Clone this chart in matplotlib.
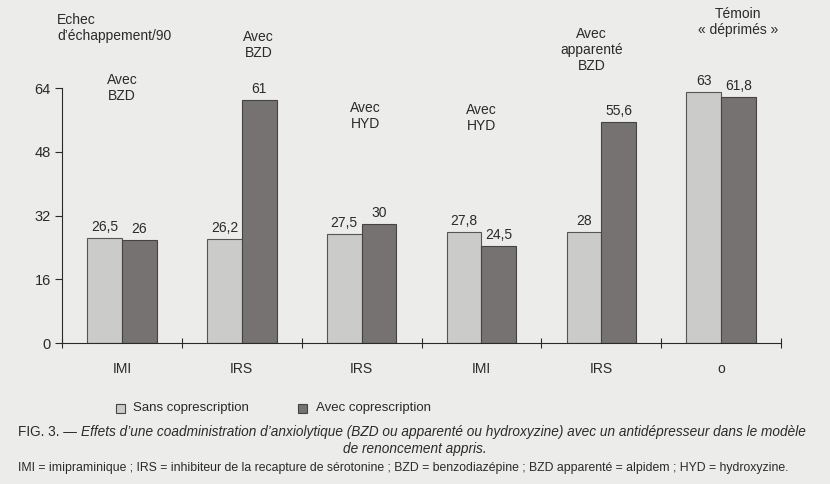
import matplotlib.pyplot as plt
import numpy as np

plt.rcParams['font.family'] = ['Liberation Sans', 'DejaVu Sans']

categories = ['IMI', 'IRS', 'IRS', 'IMI', 'IRS', 'o']
sans = [26.5, 26.2, 27.5, 27.8, 28, 63]
avec = [26, 61, 30, 24.5, 55.6, 61.8]
sans_lbl = ['26,5', '26,2', '27,5', '27,8', '28', '63']
avec_lbl = ['26', '61', '30', '24,5', '55,6', '61,8']
notes = ['Avec\nBZD', 'Avec\nBZD', 'Avec\nHYD', 'Avec\nHYD', 'Avec\napparenté\nBZD', 'Témoin\n« déprimés »']
note_x = [0, 1.14, 2.03, 3.0, 3.92, 5.14]
note_y = [64, 74.8, 57, 56.5, 73.5, 80.6]

bg = '#ececea'
light = '#cbcbc9'
dark = '#767272'
ink = '#2a2a2a'

fig = plt.figure(figsize=(8.3, 4.84), dpi=100, facecolor=bg)
ax = fig.add_axes([0.0747, 0.291, 0.8663, 0.527], facecolor=bg)

x = np.arange(len(categories))
w = 0.29
ax.bar(x - w / 2, sans, w, color=light, edgecolor='#555555', linewidth=0.8)
ax.bar(x + w / 2, avec, w, color=dark, edgecolor='#444444', linewidth=0.8)

for i in range(len(x)):
    ax.text(x[i] - w / 2, sans[i] + 1.0, sans_lbl[i], ha='center', va='bottom', fontsize=10, color=ink)
    ax.text(x[i] + w / 2, avec[i] + 1.0, avec_lbl[i], ha='center', va='bottom', fontsize=10, color=ink)
    ax.text(note_x[i], note_y[i], notes[i], ha='center', va='center', fontsize=10,
            color=ink, linespacing=1.2, clip_on=False)

ax.set_xlim(-0.5, 5.5)
ax.set_ylim(0, 64)
ax.set_yticks([0, 16, 32, 48, 64])
ax.set_xticks(np.arange(-0.5, 5.6, 1))
ax.set_xticklabels([])
ax.tick_params(axis='y', direction='out', length=5, labelsize=10.5, colors=ink, pad=3)
ax.tick_params(axis='x', direction='inout', length=7, colors=ink)
for i, c in enumerate(categories):
    ax.text(x[i], -6.5, c, ha='center', va='center', fontsize=10, color=ink)

for s in ['top', 'right']:
    ax.spines[s].set_visible(False)
ax.spines['left'].set_color(ink)
ax.spines['bottom'].set_color(ink)

fig.text(57 / 830, 1 - 28 / 484, 'Echec\nd\u2019échappement/90', ha='left', va='center',
         fontsize=10, color=ink, linespacing=1.2)

# legende
fig.patches.append(plt.Rectangle((116 / 830, 1 - 413 / 484), 9 / 830, 9 / 484,
                                 transform=fig.transFigure, facecolor=light, edgecolor='#444444', lw=0.8))
fig.text(133 / 830, 1 - 408 / 484, 'Sans coprescription', ha='left', va='center', fontsize=9.5, color=ink)
fig.patches.append(plt.Rectangle((298 / 830, 1 - 413 / 484), 9 / 830, 9 / 484,
                                 transform=fig.transFigure, facecolor=dark, edgecolor='#444444', lw=0.8))
fig.text(316 / 830, 1 - 408 / 484, 'Avec coprescription', ha='left', va='center', fontsize=9.5, color=ink)

# legende de la figure
t0 = fig.text(18 / 830, 1 - 432 / 484, 'FIG. 3. \u2014 ', ha='left', va='center', fontsize=9.8, color=ink)
ax.annotate('Effets d\u2019une coadministration d\u2019anxiolytique (BZD ou apparenté ou hydroxyzine) avec un antidépresseur dans le modèle',
            xy=(1, 0), xycoords=t0, ha='left', va='bottom', fontsize=9.8, style='italic', color=ink,
            annotation_clip=False)
fig.text(415 / 830, 1 - 449 / 484, 'de renoncement appris.', ha='center', va='center',
         fontsize=9.8, style='italic', color=ink)
fig.text(18 / 830, 1 - 468 / 484,
         'IMI = imipraminique ; IRS = inhibiteur de la recapture de sérotonine ; BZD = benzodiazépine ; BZD apparenté = alpidem ; HYD = hydroxyzine.',
         ha='left', va='center', fontsize=8.85, color=ink)

fig.savefig('out.png', dpi=100, facecolor=bg)
